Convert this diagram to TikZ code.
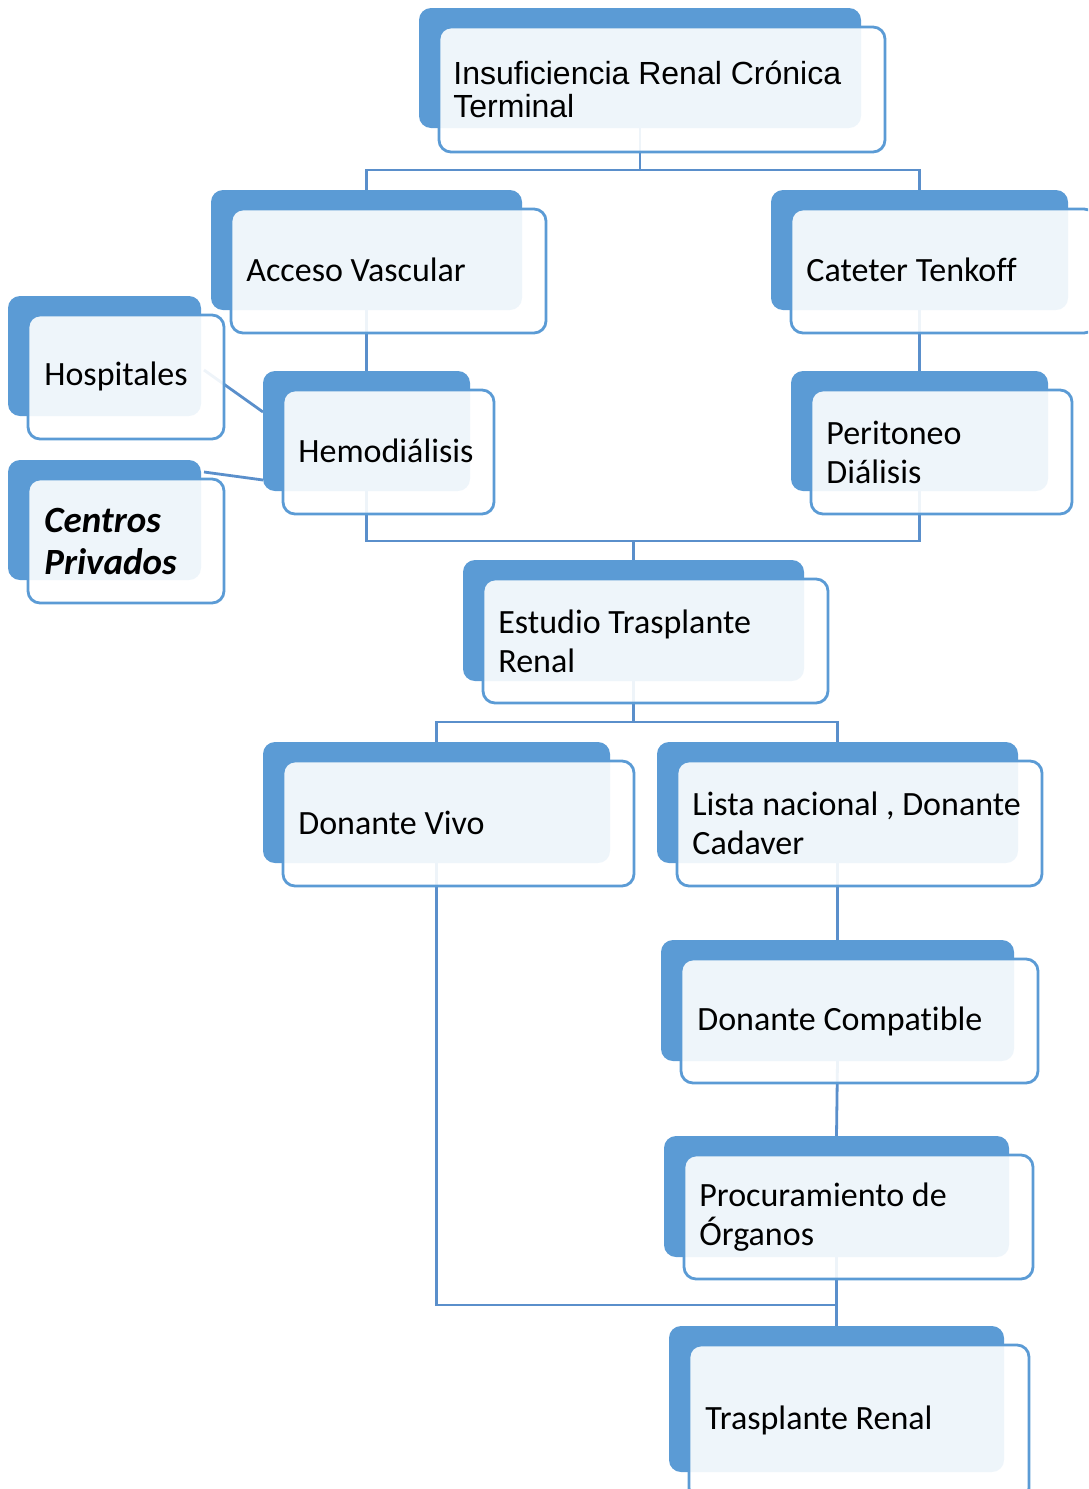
\documentclass[tikz,border=0pt]{standalone}
\usepackage{fontspec}
\setmainfont{Carlito}[Ligatures=NoCommon]
\newfontfamily\arialfont{Liberation Sans}
\usetikzlibrary{fit,backgrounds}
\definecolor{boxblue}{HTML}{5B9BD5}
\definecolor{linkblue}{HTML}{5A8FCB}
\tikzset{
  backbox/.style={fill=boxblue, rounded corners=6pt},
  frontbox/.style={draw=boxblue, line width=1.4pt, fill=white, fill opacity=0.9, rounded corners=6pt},
  boxlabel/.style={anchor=west, inner sep=0pt, align=left, text=black,
    font=\fontsize{17pt}{19.5pt}\selectfont},
  link/.style={draw=linkblue, line width=1.4pt},
}
% #1 name, (#2,#3)-(#4,#5) solid back card, (#6,#7) far corner of the outlined front card
\newcommand\stackcard[7]{%
  \fill[backbox] (#2,#3) rectangle (#4,#5);
  \node[fit={(#2,#3) (#4,#5)}, inner sep=0pt, outer sep=0pt] (#1) {};
  \draw[frontbox] (#2+20,#3+19) rectangle (#6,#7);
}
\begin{document}
\begin{tikzpicture}[x=0.5pt, y=-0.5pt]
\useasboundingbox (0,0) rectangle (1088,1489);
\clip (0,0) rectangle (1088,1489);

% cards
\stackcard{top}{419}{8}{861}{128}{885}{152}
\stackcard{acceso}{211}{190}{522}{310}{546}{333}
\stackcard{cateter}{771}{190}{1068}{310}{1096}{333}
\stackcard{hosp}{8}{296}{201}{416}{224}{439}
\stackcard{hemo}{263}{371}{470}{491}{494}{514}
\stackcard{centros}{8}{460}{201}{580}{224}{603}
\stackcard{peri}{791}{371}{1048}{491}{1072}{514}
\stackcard{estudio}{463}{560}{804}{681}{828}{703}
\stackcard{vivo}{263}{742}{610}{863}{634}{886}
\stackcard{lista}{657}{742}{1018}{863}{1042}{886}
\stackcard{compat}{661}{940}{1014}{1061}{1038}{1083}
\stackcard{procur}{664}{1136}{1009}{1257}{1033}{1279}
\stackcard{trasp}{669}{1326}{1004}{1472}{1029}{1500}

% card texts
\node[boxlabel, font=\arialfont\fontsize{16pt}{16.5pt}\selectfont] (t-top) at (453,89) {Insuficiencia Renal Crónica\\Terminal};
\node[boxlabel] (t-acceso) at (246,270) {Acceso Vascular};
\node[boxlabel] (t-cateter) at (806,270) {Cateter Tenkoff};
\node[boxlabel] (t-hosp) at (44,376) {Hospitales};
\node[boxlabel] (t-hemo) at (298,451) {Hemodiálisis};
\node[boxlabel, font=\bfseries\itshape\fontsize{18.5pt}{21pt}\selectfont] (t-centros) at (44,541) {Centros\\Privados};
\node[boxlabel] (t-peri) at (826,452) {Peritoneo\\Diálisis};
\node[boxlabel] (t-estudio) at (498,641) {Estudio Trasplante\\Renal};
\node[boxlabel] (t-vivo) at (298,823) {Donante Vivo};
\node[boxlabel] (t-lista) at (692,823) {Lista nacional , Donante\\Cadaver};
\node[boxlabel] (t-compat) at (697,1021) {Donante Compatible};
\node[boxlabel] (t-procur) at (699,1217) {Procuramiento de\\Órganos};
\node[boxlabel] (t-trasp) at (705,1420) {Trasplante Renal};

% connectors, kept under the cards
\begin{scope}[on background layer]
  \coordinate (j1) at ([shift={(0,42)}]top.south);
  \coordinate (j2) at ([shift={(0,-19)}]estudio.north);
  \coordinate (j3) at ([shift={(0,41)}]estudio.south);
  \coordinate (j4) at ([shift={(0,-21)}]trasp.north);
  \draw[link] (top.south) -- (j1);
  \draw[link] (j1) -| (acceso.north);
  \draw[link] (j1) -| (cateter.north);
  \draw[link] (acceso.south) -- (hemo.north);
  \draw[link] (cateter.south) -- (peri.north);
  \draw[link] ([shift={(3,14)}]hosp.east) -- ([shift={(0,-79)}]hemo.south west);
  \draw[link] ([shift={(3,12)}]centros.north east) -- ([shift={(0,109)}]hemo.north west);
  \draw[link] (hemo.south) |- (j2);
  \draw[link] (peri.south) |- (j2);
  \draw[link] (j2) -- (estudio.north);
  \draw[link] (estudio.south) -- (j3);
  \draw[link] (j3) -| (vivo.north);
  \draw[link] (j3) -| (lista.north);
  \draw[link] (lista.south) -- (compat.north);
  \draw[link] (compat.south) -- (procur.north);
  \draw[link] (vivo.south) |- (j4);
  \draw[link] (procur.south) -- (trasp.north);
\end{scope}
\end{tikzpicture}
\end{document}
